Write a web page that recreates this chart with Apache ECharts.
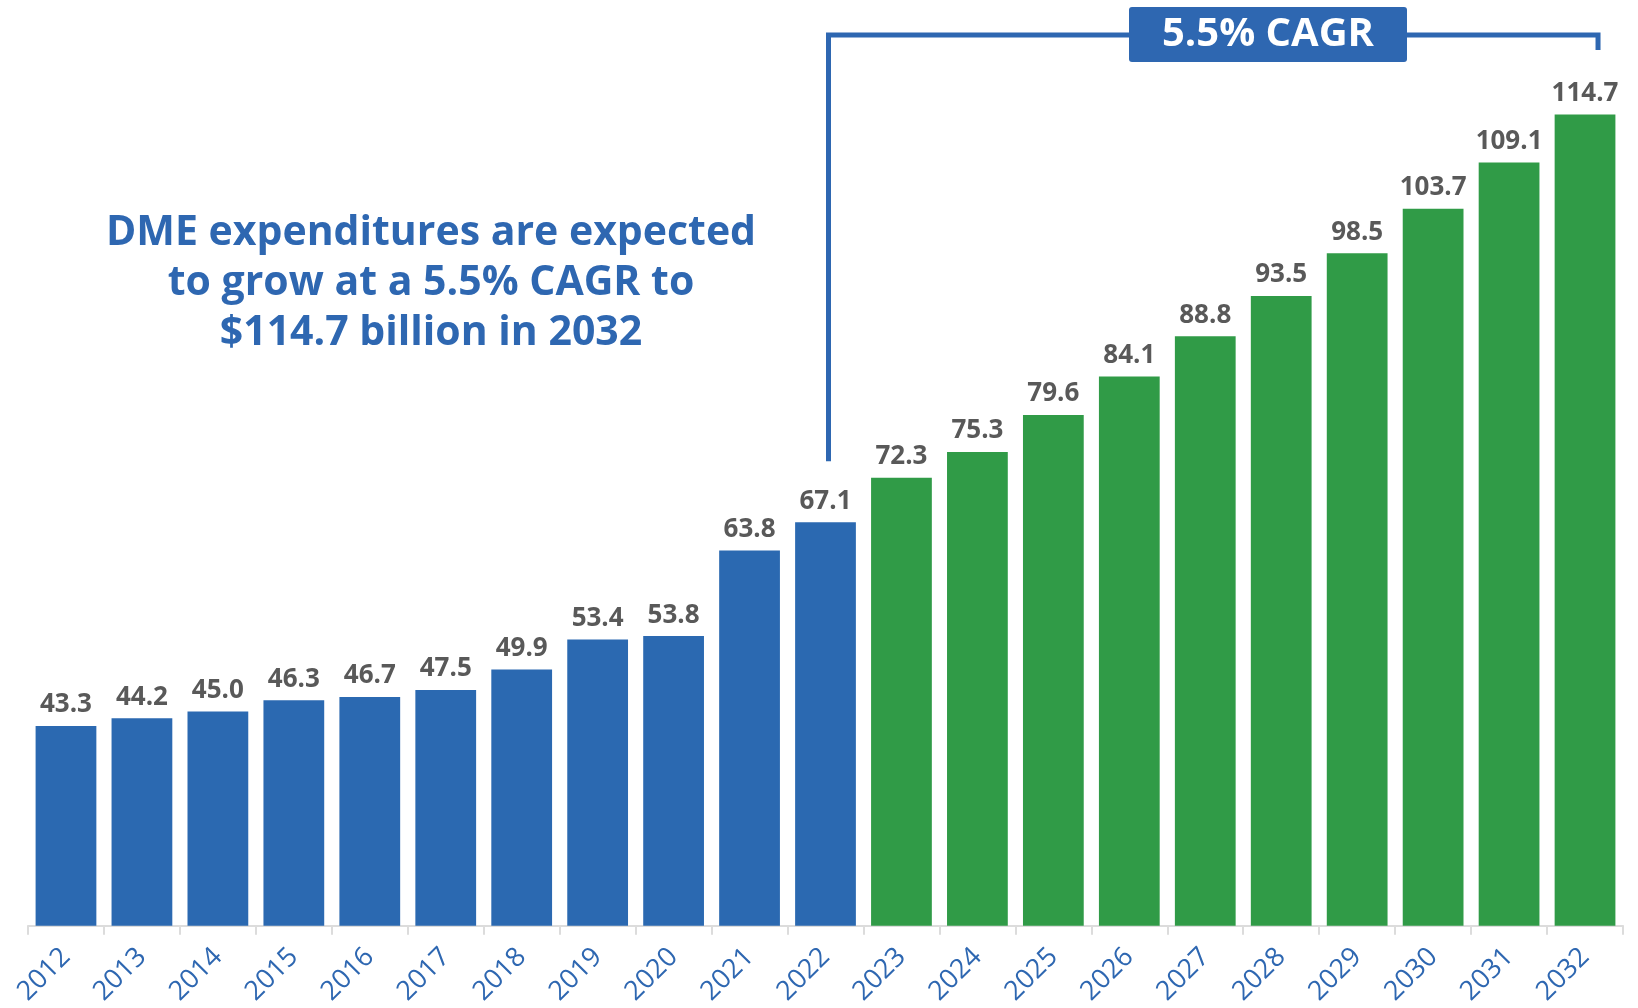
<!DOCTYPE html>
<html>
<head>
<meta charset="utf-8">
<script src="https://cdn.jsdelivr.net/npm/echarts@6/dist/echarts.min.js"></script>
<style>
  html, body { margin: 0; padding: 0; background: #fff; }
  #chart { width: 1638px; height: 1008px; }
</style>
</head>
<body>
<div id="chart"></div>
<script>
const years = ['2012', '2013', '2014', '2015', '2016', '2017', '2018', '2019', '2020', '2021', '2022',
  '2023', '2024', '2025', '2026', '2027', '2028', '2029', '2030', '2031', '2032'];
const actualValues = [43.3, 44.2, 45.0, 46.3, 46.7, 47.5, 49.9, 53.4, 53.8, 63.8, 67.1];
const projectedValues = [72.3, 75.3, 79.6, 84.1, 88.8, 93.5, 98.5, 103.7, 109.1, 114.7];
const noteLines = ['DME expenditures are expected', 'to grow at a 5.5% CAGR to', '$114.7 billion in 2032'];
const cagrLabel = '5.5% CAGR';

const BLUE = '#2B69B1';
const GREEN = '#309B47';
const FONT = '"Open Sans", "Noto Sans", sans-serif';

const barData = actualValues.map(v => ({ value: v, itemStyle: { color: BLUE } }))
  .concat(projectedValues.map(v => ({ value: v, itemStyle: { color: GREEN } })));

const myChart = echarts.init(document.getElementById('chart'), null, { renderer: 'canvas' });

const option = {
  animation: false,
  backgroundColor: '#fff',
  grid: {
    left: 28,
    right: 15,
    top: 69,
    bottom: 82,
  },
  xAxis: {
    type: 'category',
    data: years,
    axisLine: { lineStyle: { color: '#dcdcdc', width: 2 } },
    axisTick: { show: true, length: 9, lineStyle: { color: '#dcdcdc', width: 2 } },
    axisLabel: {
      rotate: 45,
      margin: 27,
      color: '#2E67B1',
      fontSize: 27,
      fontFamily: FONT,
      interval: 0,
    },
  },
  yAxis: {
    type: 'value',
    min: 20,
    max: 120,
    show: false,
  },
  series: [
    {
      type: 'bar',
      data: barData,
      barCategoryGap: '20%',
      label: {
        show: true,
        position: 'top',
        distance: 8,
        color: '#595959',
        fontSize: 26,
        fontWeight: 'bold',
        fontFamily: FONT,
        formatter: p => p.value.toFixed(1),
      },
    },
  ],
};
myChart.setOption(option);

// bracket over the forecast years
const xStart = myChart.convertToPixel({ xAxisIndex: 0 }, '2022') + 3;
const xEnd = myChart.convertToPixel({ xAxisIndex: 0 }, '2032') + 13;
const yLow = myChart.convertToPixel({ yAxisIndex: 0 }, actualValues[actualValues.length - 1]) - 61;
const yTop = 35;

myChart.setOption({
  graphic: noteLines.map((line, i) => ({
    type: 'text',
    x: 431,
    y: 233 + i * 50,
    style: {
      text: line,
      fill: '#2E67B1',
      font: 'bold 41px ' + FONT,
      align: 'center',
      verticalAlign: 'middle',
    },
  })).concat([
    {
      type: 'polyline',
      shape: { points: [[xStart, yLow], [xStart, yTop], [xEnd, yTop], [xEnd, yTop + 15]] },
      style: { stroke: '#2E67B1', lineWidth: 5, fill: null },
    },
    {
      type: 'rect',
      shape: { x: 1129, y: 7, width: 278, height: 55, r: 3 },
      style: { fill: '#2E67B1' },
    },
    {
      type: 'text',
      x: 1268,
      y: 35,
      style: {
        text: cagrLabel,
        fill: '#fff',
        font: 'bold 40px ' + FONT,
        align: 'center',
        verticalAlign: 'middle',
      },
    },
  ]),
});
</script>
</body>
</html>
